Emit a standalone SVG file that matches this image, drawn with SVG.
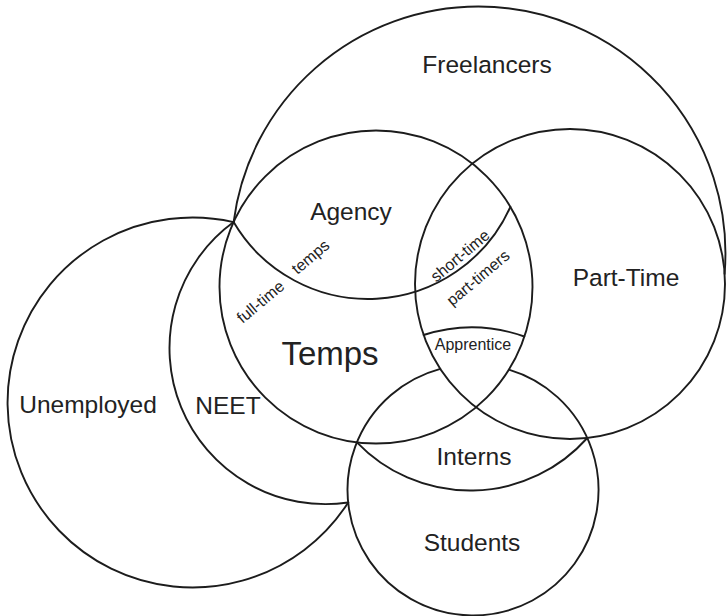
<svg xmlns="http://www.w3.org/2000/svg" width="727" height="616" viewBox="0 0 727 616">
<style>
.ln{fill:none;stroke:#1c1c1c;stroke-width:1.9;stroke-linecap:round}
text{font-family:"Liberation Sans",Arial,Helvetica,sans-serif;fill:#222;text-anchor:middle}
.lg{font-size:24.5px}
.xl{font-size:33px}
.sm{font-size:16px}
</style>
<rect width="727" height="616" fill="#fff"/>
<g id="freelancers">
<path class="ln" d="M233.6,222.1 A247,247 0 0 1 478.5,6.5 A247,247 0 0 1 724.6,273.8"/>
<text class="lg" x="487" y="73">Freelancers</text>
</g>
<g id="temps">
<circle class="ln" cx="376" cy="287" r="156.5"/>
<text class="xl" x="330" y="365">Temps</text>
</g>
<g id="part-time">
<circle class="ln" cx="570" cy="284" r="155"/>
<text class="lg" x="626" y="286">Part-Time</text>
</g>
<g id="unemployed">
<path class="ln" d="M233.6,222.1 A185,185 0 1 0 348.2,502.5"/>
<text class="lg" x="88" y="413">Unemployed</text>
</g>
<g id="neet">
<path class="ln" d="M233.6,222.1 A156,156 0 0 0 348.2,502.5"/>
<text class="lg" x="228" y="414">NEET</text>
</g>
<g id="students">
<path class="ln" d="M440.3,368.8 A125.5,125.5 0 1 0 508.9,369.7"/>
<text class="lg" x="472" y="551">Students</text>
</g>
<g id="agency">
<path class="ln" d="M233.6,222.1 A156,156 0 0 0 510.4,206.8"/>
<text class="lg" x="351" y="220">Agency</text>
</g>
<g id="interns">
<path class="ln" d="M356.9,442.3 A157,157 0 0 0 587.3,438"/>
<text class="lg" x="474" y="465">Interns</text>
</g>
<g id="apprentice">
<path class="ln" d="M423.6,335 A157,157 0 0 1 524.3,336.5"/>
<text class="sm" x="473" y="350">Apprentice</text>
</g>
<g id="full-time-temps">
<text class="sm" transform="translate(264,306) rotate(-40)">full-time</text>
<text class="sm" transform="translate(314,261) rotate(-40)">temps</text>
</g>
<g id="short-time-part-timers">
<text class="sm" transform="translate(463.5,260) rotate(-40)">short-time</text>
<text class="sm" transform="translate(481.5,282) rotate(-40)">part-timers</text>
</g>
<g id="connectors"></g>
</svg>
